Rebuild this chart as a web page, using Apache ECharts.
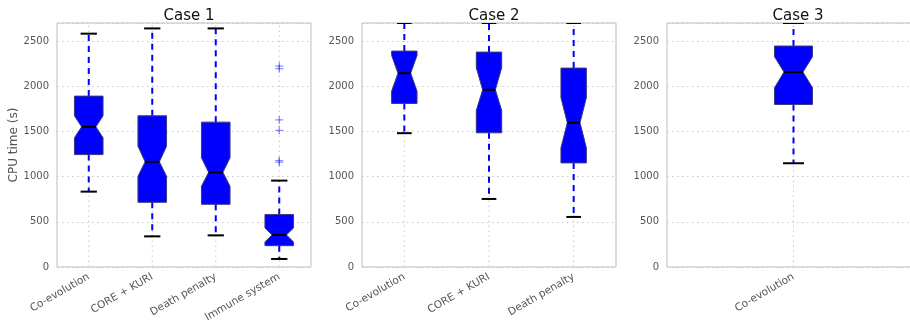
<!DOCTYPE html>
<html>
<head>
<meta charset="utf-8">
<script src="https://cdn.jsdelivr.net/npm/echarts@6/dist/echarts.min.js"></script>
<style>html,body{margin:0;padding:0;background:#fff;}#c{width:910px;height:322px;}</style>
</head>
<body>
<div id="c"></div>
<script>
// ---- Data ----
const yTicks = [0, 500, 1000, 1500, 2000, 2500];
const yMax = 2700;

const case1Categories = ['Co-evolution', 'CORE + KURI', 'Death penalty', 'Immune system'];
const case1Low = [834, 339, 350, 89];
const case1Q1 = [1244, 716, 694, 236];
const case1Median = [1551, 1164, 1048, 355];
const case1Q3 = [1891, 1673, 1603, 580];
const case1High = [2582, 2640, 2640, 956];
const case1NotchLow = [1430, 1004, 893, 278];
const case1NotchHigh = [1673, 1337, 1208, 432];
const case1OutlierCat = [3, 3, 3, 3, 3, 3];
const case1OutlierVal = [2223, 2194, 1628, 1512, 1178, 1160];

const case2Categories = ['Co-evolution', 'CORE + KURI', 'Death penalty'];
const case2Low = [1481, 753, 554];
const case2Q1 = [1810, 1485, 1152];
const case2Median = [2145, 1961, 1596];
const case2Q3 = [2389, 2378, 2201];
const case2High = [2700, 2700, 2700];
const case2NotchLow = [1946, 1732, 1319];
const case2NotchHigh = [2341, 2205, 1873];

const case3Categories = ['Co-evolution'];
const case3Low = [1148];
const case3Q1 = [1799];
const case3Median = [2157];
const case3Q3 = [2445];
const case3High = [2700];
const case3NotchLow = [1984];
const case3NotchHigh = [2327];

const titles = ['Case 1', 'Case 2', 'Case 3'];

// ---- Build ----
const FONT = 'DejaVu Sans';
function boxData(cats, low, q1, med, q3, high, nlo, nhi) {
  return cats.map((c, i) => [i, low[i], q1[i], med[i], q3[i], high[i], nlo[i], nhi[i]]);
}
const panels = [
  { cats: case1Categories, data: boxData(case1Categories, case1Low, case1Q1, case1Median, case1Q3, case1High, case1NotchLow, case1NotchHigh),
    out: case1OutlierCat.map((c, i) => [c, case1OutlierVal[i]]) },
  { cats: case2Categories, data: boxData(case2Categories, case2Low, case2Q1, case2Median, case2Q3, case2High, case2NotchLow, case2NotchHigh), out: [] },
  { cats: case3Categories, data: boxData(case3Categories, case3Low, case3Q1, case3Median, case3Q3, case3High, case3NotchLow, case3NotchHigh), out: [] }
];
// box width as a fraction of the category band (layout)
const boxFrac = [0.45, 0.3, 0.15];

const grids = [
  { left: 57, right: 599, top: 23, bottom: 55 },
  { left: 362, right: 294, top: 23, bottom: 55 },
  { left: 667, right: -10, top: 23, bottom: 55 }
];
const titleX = [184, 489, 793];

function makeRenderBox(frac) {
  return function (params, api) {
    const idx = api.value(0);
    const band = api.size([1, 0])[0];
    const w = band * frac;
    const c = api.coord([idx, 0]);
    const cx = c[0];
    const yv = k => api.coord([idx, api.value(k)])[1];
    const low = yv(1), q1 = yv(2), med = yv(3), q3 = yv(4), high = yv(5), nlo = yv(6), nhi = yv(7);
    const L = cx - w / 2, R = cx + w / 2, q = w / 4;
    const top = api.coord([idx, yMax])[1];
    const bottom = c[1];
    const dash = { stroke: '#0000ff', lineWidth: 2, lineDash: [6, 5] };
    const capHalf = w / 4 + 1;
    const cs = params.coordSys;
    return {
      type: 'group',
      clipPath: { type: 'rect', shape: { x: cs.x, y: cs.y, width: cs.width, height: cs.height } },
      children: [
        { type: 'line', shape: { x1: cx, y1: bottom, x2: cx, y2: top }, style: { stroke: '#c8c8c8', lineWidth: 1, lineDash: [1.5, 3.5] } },
        { type: 'line', shape: { x1: cx, y1: q3, x2: cx, y2: high }, style: dash },
        { type: 'line', shape: { x1: cx, y1: q1, x2: cx, y2: low }, style: dash },
        { type: 'line', shape: { x1: cx - capHalf, y1: high, x2: cx + capHalf, y2: high }, style: { stroke: '#000', lineWidth: 2 } },
        { type: 'line', shape: { x1: cx - capHalf, y1: low, x2: cx + capHalf, y2: low }, style: { stroke: '#000', lineWidth: 2 } },
        { type: 'polygon', shape: { points: [
            [L, q1], [L, nlo], [L + q, med], [L, nhi], [L, q3],
            [R, q3], [R, nhi], [R - q, med], [R, nlo], [R, q1]
          ] }, style: { fill: '#0000ff', stroke: '#3a3a7a', lineWidth: 1 } },
        { type: 'line', shape: { x1: L + q, y1: med, x2: R - q, y2: med }, style: { stroke: '#000', lineWidth: 2 } }
      ]
    };
  };
}
function renderPlus(params, api) {
  const p = api.coord([api.value(0), api.value(1)]);
  const s = 4;
  return { type: 'group', children: [
    { type: 'line', shape: { x1: p[0] - s, y1: p[1], x2: p[0] + s, y2: p[1] }, style: { stroke: 'rgba(40,40,255,0.55)', lineWidth: 1.2 } },
    { type: 'line', shape: { x1: p[0], y1: p[1] - s, x2: p[0], y2: p[1] + s }, style: { stroke: 'rgba(40,40,255,0.55)', lineWidth: 1.2 } }
  ] };
}

const option = {
  animation: false,
  backgroundColor: '#fff',
  title: titles.map((t, i) => ({ text: t, left: titleX[i], top: 4, textAlign: 'center',
    textStyle: { fontFamily: FONT, fontSize: 15, fontWeight: 'normal', color: '#111' } })),
  grid: grids.map(g => Object.assign({ show: true, borderColor: '#bdbdbd', borderWidth: 1, backgroundColor: '#fff',
    containLabel: false, outerBoundsMode: 'none' }, g)),
  xAxis: panels.map((p, i) => ({
    type: 'category', gridIndex: i, data: p.cats, boundaryGap: true,
    axisLine: { show: false }, axisTick: { show: false }, splitLine: { show: false },
    axisLabel: { rotate: 30, margin: 9, fontFamily: FONT, fontSize: 10.5, color: '#555', interval: 0 }
  })),
  yAxis: panels.map((p, i) => ({
    type: 'value', gridIndex: i, min: 0, max: yMax, interval: 500,
    name: i === 0 ? 'CPU time (s)' : '', nameLocation: 'middle', nameGap: 34,
    nameTextStyle: { fontFamily: FONT, fontSize: 12, color: '#555' },
    axisLine: { show: false }, axisTick: { show: false },
    axisLabel: { margin: 8, fontFamily: FONT, fontSize: 10, color: '#555',
      formatter: v => (yTicks.indexOf(v) >= 0 ? String(v) : '') },
    splitLine: { show: true, lineStyle: { color: '#c8c8c8', width: 1, type: [1.5, 3.5] } }
  })),
  series: panels.flatMap((p, i) => {
    const s = [{ type: 'custom', xAxisIndex: i, yAxisIndex: i, renderItem: makeRenderBox(boxFrac[i]), data: p.data, clip: true,
      encode: { x: 0, y: [1, 2, 3, 4, 5, 6, 7] } }];
    if (p.out.length) s.push({ type: 'custom', xAxisIndex: i, yAxisIndex: i, renderItem: renderPlus, data: p.out, clip: true,
      encode: { x: 0, y: 1 } });
    return s;
  })
};
const chart = echarts.init(document.getElementById('c'), null, { renderer: 'canvas' });
chart.setOption(option);
</script>
</body>
</html>
